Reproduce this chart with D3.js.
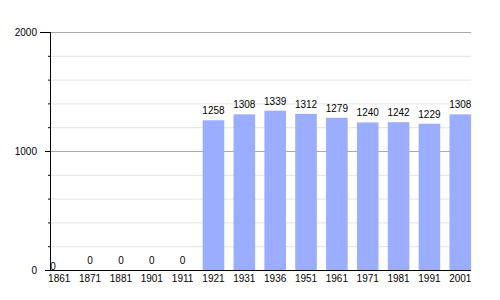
<!DOCTYPE html>
<html>
<head>
<meta charset="utf-8">
<script src="https://cdn.jsdelivr.net/npm/d3@7"></script>
<style>
  body { margin: 0; background: #fff; }
  text { font-family: "Liberation Sans", Arial, sans-serif; }
</style>
</head>
<body>
<script>
// Data
var years = ["1861", "1871", "1881", "1901", "1911", "1921", "1931", "1936", "1951", "1961", "1971", "1981", "1991", "2001"];
var population = [0, 0, 0, 0, 0, 1258, 1308, 1339, 1312, 1279, 1240, 1242, 1229, 1308];
var majorTicks = [0, 1000, 2000];
var minorTicks = [200, 400, 600, 800, 1200, 1400, 1600, 1800];

var svg = d3.select("body")
            .append("svg")
            .attr("width", 500)
            .attr("height", 300);

// plot area (note: "top" is reserved on window, so use other names)
var plotLeft = 50, plotRight = 471, plotTop = 32, plotBottom = 270;
var fontSize = "10px";

var x = d3.scaleBand()
  .domain(years)
  .range([43.8, 475.7])
  .paddingInner(0.3)
  .paddingOuter(0.15);

var y = d3.scaleLinear().domain([0, 2000]).range([plotBottom, plotTop]);

// Grid lines
svg.append("g").selectAll("line")
  .data(minorTicks)
  .enter().append("line")
  .attr("x1", plotLeft).attr("x2", plotRight)
  .attr("y1", function(d) { return y(d) + 0.5; })
  .attr("y2", function(d) { return y(d) + 0.5; })
  .attr("stroke", "#e3e3e3")
  .attr("stroke-width", 1);

svg.append("g").selectAll("line")
  .data(majorTicks.slice(1))
  .enter().append("line")
  .attr("x1", plotLeft).attr("x2", plotRight)
  .attr("y1", function(d) { return y(d) + 0.5; })
  .attr("y2", function(d) { return y(d) + 0.5; })
  .attr("stroke", "#aaaaaa")
  .attr("stroke-width", 1);

// Bars
svg.append("g").selectAll("rect")
  .data(population)
  .enter().append("rect")
  .attr("x", function(d, i) { return x(years[i]); })
  .attr("y", function(d) { return y(d); })
  .attr("width", x.bandwidth())
  .attr("height", function(d) { return plotBottom - y(d); })
  .attr("fill", "#9aadff");

// Value labels
svg.append("g").selectAll("text")
  .data(population)
  .enter().append("text")
  .attr("x", function(d, i) { return i === 0 ? plotLeft + 3 : x(years[i]) + x.bandwidth() / 2; })
  .attr("y", function(d, i) { return i === 0 ? plotBottom - 0.5 : y(d) - 6; })
  .attr("text-anchor", "middle")
  .style("font-size", fontSize)
  .attr("fill", "#000")
  .text(function(d) { return d; });

// Y axis
var yAxis = svg.append("g");
yAxis.append("line")
  .attr("x1", plotLeft + 0.5).attr("x2", plotLeft + 0.5)
  .attr("y1", plotTop).attr("y2", plotBottom)
  .attr("stroke", "#000");
yAxis.selectAll(".minor")
  .data(minorTicks)
  .enter().append("line")
  .attr("x1", plotLeft - 2).attr("x2", plotLeft)
  .attr("y1", function(d) { return y(d) + 0.5; })
  .attr("y2", function(d) { return y(d) + 0.5; })
  .attr("stroke", "#000");
yAxis.selectAll(".major")
  .data(majorTicks)
  .enter().append("line")
  .attr("x1", function(d) { return d === 2000 ? plotLeft - 10 : plotLeft - 5; })
  .attr("x2", plotLeft)
  .attr("y1", function(d) { return y(d) + 0.5; })
  .attr("y2", function(d) { return y(d) + 0.5; })
  .attr("stroke", "#000");
yAxis.selectAll("text")
  .data(majorTicks)
  .enter().append("text")
  .attr("x", 37)
  .attr("y", function(d) { return y(d) + 3.5; })
  .attr("text-anchor", "end")
  .style("font-size", fontSize)
  .text(function(d) { return d; });

// X axis
svg.append("line")
  .attr("x1", plotLeft).attr("x2", plotRight)
  .attr("y1", plotBottom + 0.5).attr("y2", plotBottom + 0.5)
  .attr("stroke", "#000");
svg.append("g").selectAll("text")
  .data(years)
  .enter().append("text")
  .attr("x", function(d) { return x(d) + x.bandwidth() / 2; })
  .attr("y", 282)
  .attr("text-anchor", "middle")
  .style("font-size", fontSize)
  .text(function(d) { return d; });
</script>
</body>
</html>
